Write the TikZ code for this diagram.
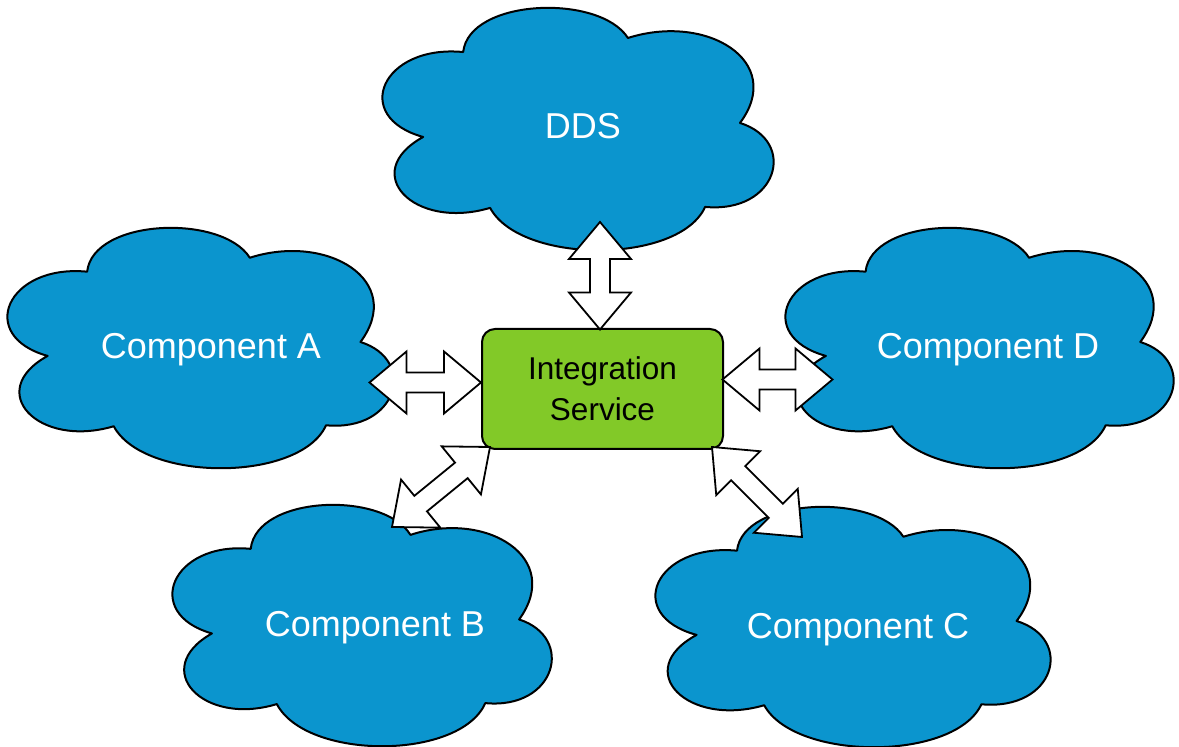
\documentclass[tikz,border=0pt]{standalone}
\usepackage{fontspec}
\setmainfont{Liberation Sans}
\usetikzlibrary{calc}

\definecolor{cloudblue}{RGB}{11,149,206}
\definecolor{servicegreen}{RGB}{130,201,40}

\tikzset{
  cloudfill/.style={fill=cloudblue, draw=black, line width=1pt, line join=round},
  cloudlabel/.style={text=white, font=\fontsize{18pt}{21pt}\selectfont, anchor=base, inner sep=0pt},
  servicebox/.style={draw=black, line width=1pt, fill=servicegreen, rounded corners=6.5pt,
    minimum width=120.5pt, minimum height=60pt, align=center, inner sep=0pt,
    font=\fontsize{15.75pt}{20.5pt}\selectfont},
  linkarrow/.style={draw=black, fill=white, line width=0.9pt, line join=miter},
}

% Six-lobed cloud in a unit box (y grows downwards), placed at #1,#2 with size #3 x #4
\newcommand\cloudat[4]{%
  \begin{scope}[shift={(#1,#2)}, xscale=#3, yscale=#4]
    \path[cloudfill] (0.205,0.182)
      .. controls (0.22,-0.04) and (0.55,-0.06) .. (0.621,0.124)
      .. controls (0.82,0.02) and (1.02,0.22) .. (0.904,0.475)
      .. controls (1.05,0.55) and (1.0,0.85) .. (0.816,0.822)
      .. controls (0.75,1.06) and (0.35,1.06) .. (0.273,0.826)
      .. controls (0.08,0.92) and (-0.06,0.68) .. (0.104,0.533)
      .. controls (-0.08,0.45) and (0.0,0.15) .. (0.205,0.182) -- cycle;
  \end{scope}}

% Double-headed block arrow between two named points
\newcommand\linkarrow[2]{%
  \path[linkarrow] (#1)
    -- ($(#1)!18.5pt!(#2)!15.5pt!90:(#2)$)
    -- ($(#1)!18.5pt!(#2)!5pt!90:(#2)$)
    -- ($(#2)!18.5pt!(#1)!5pt!-90:(#1)$)
    -- ($(#2)!18.5pt!(#1)!15.5pt!-90:(#1)$)
    -- (#2)
    -- ($(#2)!18.5pt!(#1)!15.5pt!90:(#1)$)
    -- ($(#2)!18.5pt!(#1)!5pt!90:(#1)$)
    -- ($(#1)!18.5pt!(#2)!5pt!-90:(#2)$)
    -- ($(#1)!18.5pt!(#2)!15.5pt!-90:(#2)$)
    -- cycle;}

\begin{document}
\begin{tikzpicture}[x=0.5pt, y=-0.5pt]
  \useasboundingbox (0,0) rectangle (1179,747);

  % clouds
  \cloudat{382}{8}{396}{242}
  \cloudat{7}{228}{391}{240}
  \cloudat{785}{228}{393}{240}
  \cloudat{172}{505}{384}{241}
  \cloudat{655}{507}{400}{240}

  % cloud labels
  \node[cloudlabel] (dds)   at (583,139) {DDS};
  \node[cloudlabel] (compA) at (211,359) {Component A};
  \node[cloudlabel] (compD) at (988,359) {Component D};
  \node[cloudlabel] (compB) at (375,637) {Component B};
  \node[cloudlabel] (compC) at (858,639) {Component C};

  % central service
  \node[servicebox] (svc) at (602.5,389) {Integration\\Service};

  % arrow end points
  \coordinate (ddsEnd)  at (600,222);
  \coordinate (svcTop)  at (600,329.5);
  \coordinate (aEnd)    at (369.5,382.5);
  \coordinate (svcLeft) at (481,382.5);
  \coordinate (svcRight) at (722.5,379.5);
  \coordinate (dEnd)    at (832.5,379.5);
  \coordinate (svcSW)   at (490,447);
  \coordinate (bEnd)    at (392,527);
  \coordinate (svcSE)   at (712,447);
  \coordinate (cEnd)    at (802,537);

  % links
  \linkarrow{ddsEnd}{svcTop}
  \linkarrow{aEnd}{svcLeft}
  \linkarrow{svcRight}{dEnd}
  \linkarrow{svcSW}{bEnd}
  \linkarrow{svcSE}{cEnd}
\end{tikzpicture}
\end{document}
